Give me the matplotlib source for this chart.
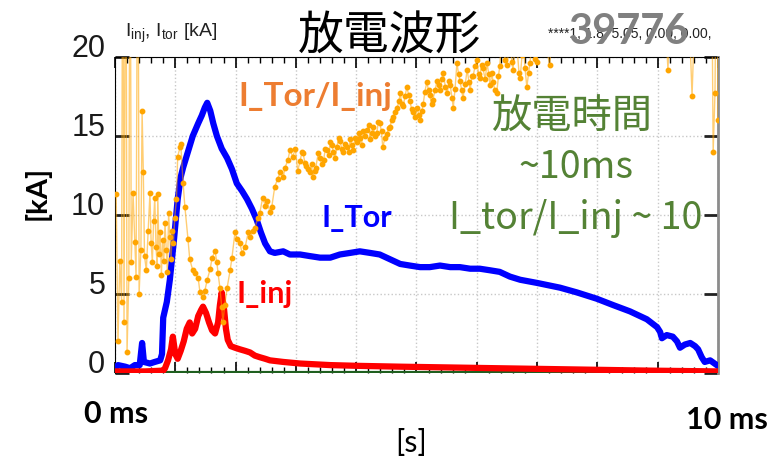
import matplotlib
matplotlib.use("Agg")
import matplotlib.pyplot as plt

plt.rcParams['mathtext.fontset'] = 'custom'
plt.rcParams['mathtext.rm'] = 'Liberation Sans'
plt.rcParams['mathtext.it'] = 'Liberation Sans'

# time axis in ms, currents in kA
t_tor = [0.0, 0.05, 0.17, 0.25, 0.33, 0.41, 0.45, 0.48, 0.58, 0.66, 0.75, 0.78, 0.80, 0.86,
         0.91, 0.98, 1.04, 1.09, 1.13, 1.21, 1.29, 1.38, 1.44, 1.49, 1.53, 1.58, 1.63, 1.69,
         1.77, 1.86, 1.94, 2.02, 2.11, 2.19, 2.27, 2.35, 2.42, 2.49, 2.57, 2.65, 2.79, 2.90,
         3.07, 3.23, 3.40, 3.57, 3.73, 3.90, 4.06, 4.23, 4.39, 4.56, 4.73, 4.89, 5.06, 5.22,
         5.39, 5.56, 5.72, 5.89, 6.05, 6.22, 6.38, 6.55, 6.72, 7.00, 7.38, 7.66, 7.99, 8.26,
         8.54, 8.82, 8.99, 9.04, 9.07, 9.15, 9.25, 9.32, 9.37, 9.45, 9.54, 9.62, 9.67, 9.73,
         9.78, 9.87, 9.98]
i_tor = [0.3, 0.5, 0.4, 0.3, 0.5, 0.5, 1.9, 0.7, 0.6, 0.7, 0.8, 1.2, 3.5, 4.5,
         5.9, 8.5, 11.0, 12.4, 13.0, 14.0, 15.0, 15.8, 16.3, 16.8, 17.1, 16.6, 15.8, 15.0,
         14.2, 13.6, 12.9, 12.0, 11.5, 11.0, 10.4, 9.7, 8.9, 8.2, 7.7, 7.6, 7.7, 7.5,
         7.5, 7.4, 7.3, 7.3, 7.5, 7.6, 7.7, 7.6, 7.5, 7.2, 6.9, 6.8, 6.7, 6.7,
         6.8, 6.7, 6.7, 6.6, 6.6, 6.5, 6.4, 6.1, 5.9, 5.7, 5.4, 5.1, 4.7, 4.3,
         3.9, 3.4, 2.9, 2.6, 2.2, 2.4, 2.3, 2.0, 1.6, 1.8, 1.9, 1.7, 1.5, 1.0,
         0.7, 0.8, 0.5]

t_inj = [0.0, 0.5, 0.80, 0.83, 0.88, 0.93, 0.96, 1.00, 1.04, 1.09, 1.14, 1.19, 1.24, 1.28,
         1.33, 1.38, 1.43, 1.46, 1.51, 1.56, 1.61, 1.66, 1.71, 1.74, 1.77, 1.81, 1.84, 1.87,
         1.92, 1.99, 2.07, 2.16, 2.24, 2.32, 2.40, 2.49, 2.57, 2.79, 3.07, 3.57, 4.06, 4.73,
         5.56, 6.38, 7.21, 8.04, 8.87, 10.0]
i_inj = [0.1, 0.1, 0.15, 0.3, 0.8, 1.5, 2.3, 1.2, 0.9, 1.4, 2.0, 2.8, 3.2, 2.5,
         2.8, 3.6, 4.0, 4.2, 3.8, 3.2, 2.7, 2.5, 3.2, 4.3, 5.1, 4.0, 2.8, 2.1,
         1.7, 1.6, 1.5, 1.4, 1.3, 1.1, 1.0, 0.9, 0.8, 0.7, 0.6, 0.5, 0.45, 0.4,
         0.35, 0.3, 0.25, 0.2, 0.15, 0.1]

# ratio I_tor / I_inj (plotted on the same kA scale, values above 20 run off the top)
t_ratio = [0.02, 0.05, 0.08, 0.11, 0.13, 0.15, 0.18, 0.20, 0.23, 0.25, 0.27, 0.30, 0.33, 0.35,
           0.38, 0.40, 0.43, 0.45, 0.47, 0.49, 0.52, 0.55, 0.58, 0.60, 0.62, 0.64, 0.66, 0.68,
           0.70, 0.71, 0.73, 0.75, 0.77, 0.79, 0.81, 0.83, 0.85, 0.87, 0.89, 0.91, 0.93, 0.95,
           0.97, 0.99, 1.02, 1.04, 1.08, 1.09, 1.13, 1.16, 1.21, 1.24, 1.29, 1.33, 1.38, 1.41,
           1.46, 1.49, 1.53, 1.58, 1.61, 1.66, 1.69, 1.71, 1.74, 1.77, 1.79, 1.82, 1.86, 1.91,
           1.94, 1.99, 2.02, 2.07, 2.11, 2.16, 2.21, 2.24, 2.29, 2.32, 2.37, 2.40, 2.45, 2.49,
           2.52, 2.57, 2.60, 2.65, 2.70, 2.74, 2.79, 2.82, 2.87, 2.90, 2.95, 2.99, 3.03, 3.07,
           3.10, 3.12, 3.15, 3.17, 3.20, 3.23, 3.26, 3.28, 3.31, 3.33, 3.37, 3.40, 3.43, 3.46,
           3.49, 3.52, 3.55, 3.57, 3.60, 3.62, 3.65, 3.68, 3.71, 3.73, 3.76, 3.78, 3.82, 3.85,
           3.88, 3.90, 3.93, 3.95, 3.98, 4.01, 4.04, 4.06, 4.09, 4.11, 4.15, 4.18, 4.21, 4.23,
           4.26, 4.28, 4.31, 4.34, 4.37, 4.39, 4.42, 4.44, 4.48, 4.51, 4.54, 4.56, 4.59, 4.61,
           4.65, 4.68, 4.71, 4.73, 4.76, 4.78, 4.81, 4.84, 4.87, 4.89, 4.92, 4.94, 4.98, 5.01,
           5.04, 5.06, 5.09, 5.11, 5.14, 5.17, 5.20, 5.22, 5.25, 5.27, 5.31, 5.34, 5.37, 5.39,
           5.42, 5.44, 5.48, 5.51, 5.54, 5.56, 5.59, 5.61, 5.64, 5.67, 5.70, 5.72, 5.75, 5.77,
           5.81, 5.84, 5.87, 5.89, 5.92, 5.94, 5.97, 6.00, 6.03, 6.05, 6.08, 6.10, 6.14, 6.17,
           6.20, 6.22, 6.25, 6.27, 6.30, 6.33, 6.36, 6.38, 6.41, 6.43, 6.47, 6.50, 6.53, 6.55,
           6.58, 6.60, 6.64, 6.67, 6.70, 6.72, 6.75, 6.77, 6.80, 6.83, 6.86, 6.88, 6.91, 6.93,
           6.97, 7.00, 7.05, 7.13, 7.21, 7.30, 7.50, 7.80, 8.10, 8.40, 8.70, 9.00, 9.12, 9.17,
           9.22, 9.50, 9.57, 9.64, 9.85, 9.90, 9.92, 9.95, 9.98, 10.0]
ratio = [11.3, 2.0, 7.1, 4.5, 35, 3.2, 35, 1.3, 6.0, 35, 7.0, 11.4, 8.3, 6.1,
         35, 5.0, 7.8, 16.6, 12.7, 7.4, 6.5, 9.0, 11.4, 8.2, 7.0, 9.6, 11.1, 8.0,
         6.8, 11.3, 7.5, 8.9, 6.2, 8.4, 7.1, 9.5, 7.8, 6.4, 10.1, 8.6, 7.2, 9.0,
         8.2, 9.8, 11.0, 13.7, 14.3, 14.5, 12.0, 10.5, 8.5, 7.2, 6.5, 6.3, 6.0, 5.1,
         4.8, 5.2, 5.9, 6.6, 7.3, 7.7, 7.0, 6.3, 5.4, 4.2, 3.2, 4.3, 5.4, 6.5,
         7.3, 8.9, 8.5, 8.2, 7.6, 8.0, 8.9, 8.6, 9.0, 9.2, 9.8, 10.1, 11.1, 10.6,
         10.9, 10.2, 10.5, 11.8, 12.3, 12.7, 12.4, 13.0, 13.5, 14.1, 13.7, 14.2, 12.8, 13.4,
         14.0, 13.9, 13.3, 13.1, 12.9, 12.7, 13.2, 12.4, 12.8, 13.0, 13.9, 13.6, 13.2, 13.5,
         14.2, 14.1, 13.8, 14.6, 14.4, 14.0, 13.6, 14.3, 14.9, 14.7, 14.2, 14.0, 14.5, 14.3,
         14.0, 14.8, 14.4, 14.1, 14.9, 14.6, 15.2, 14.9, 14.4, 15.3, 15.0, 15.4, 15.7, 14.8,
         15.2, 15.6, 15.0, 15.2, 15.9, 15.8, 15.3, 14.3, 14.9, 15.1, 15.5, 15.6, 16.0, 16.2,
         16.5, 16.8, 17.2, 17.7, 17.0, 16.9, 17.5, 18.1, 17.6, 17.2, 16.7, 16.5, 16.2, 16.8,
         16.3, 16.0, 16.6, 17.0, 17.8, 18.4, 17.9, 17.6, 17.0, 17.3, 17.9, 18.5, 18.2, 17.9,
         18.6, 19.0, 18.1, 17.7, 18.5, 18.2, 17.4, 16.8, 18.0, 19.6, 18.9, 18.5, 17.9, 17.4,
         18.3, 19.2, 18.4, 17.9, 18.8, 18.8, 19.4, 19.8, 18.9, 18.7, 19.5, 19.3, 18.6, 19.6,
         18.9, 18.2, 19.0, 18.4, 17.9, 17.7, 18.8, 19.4, 21.0, 20.8, 19.8, 19.5, 20.4, 21.5,
         19.7, 19.2, 20.9, 20.5, 19.0, 18.7, 20.1, 21.0, 19.3, 18.1, 19.0, 19.6, 20.6, 22.0,
         19.9, 19.7, 23.0, 21.0, 19.5, 24.0, 26.0, 25.0, 27.0, 25.0, 26.0, 24.0, 23.0, 19.2,
         24.0, 25.0, 17.5, 26.0, 25.0, 24.0, 14.0, 17.7, 30.0, 16.0]

y_ticks = [0, 5, 10, 15, 20]

fig = plt.figure(figsize=(7.8, 4.69), dpi=100)
ax = fig.add_axes([0.1474, 0.2047, 0.7731, 0.6738])

ax.axhline(0, color='#1f5f1f', lw=3, zorder=2)
ax.plot(t_tor, i_tor, color='#0000ff', lw=4.5, zorder=3)
ax.plot(t_inj, i_inj, color='#ff0000', lw=4.5, zorder=4)
ax.plot(t_ratio, ratio, color='#ffa500', lw=1, alpha=0.55, zorder=5)
ax.plot(t_ratio, ratio, ls='none', marker='o', ms=3.2, color='#ffa500', zorder=6)

ax.set_xlim(0, 10)
ax.set_ylim(0, 20)
ax.set_xticks(range(11))
ax.set_xticks([i * 0.2 for i in range(51)], minor=True)
ax.set_xticklabels([])
# labels sit just above their ticks
ax.set_yticks(y_ticks)
ax.set_yticklabels([str(v) for v in y_ticks], fontfamily='Liberation Sans',
                   fontsize=22, color='#1a1a1a', va='baseline')

ax.tick_params(axis='x', which='major', direction='in', top=True, bottom=True,
               length=8, width=1.2, color='black')
ax.tick_params(axis='x', which='minor', direction='in', top=True, bottom=True,
               length=4.5, width=1, color='black')
ax.tick_params(axis='y', which='major', direction='in', left=True, right=True,
               length=10, width=2, color='#222222', pad=7)
ax.grid(True, which='major', ls=':', color='#c8c8c8', lw=1)

ax.spines['left'].set_color('black')
ax.spines['top'].set_color('black')
ax.spines['right'].set_color('#8c8c8c')
ax.spines['right'].set_linewidth(2)
ax.spines['bottom'].set_visible(False)

# header texts
fig.text(125 / 780, 1 - 33 / 469, r'$\mathrm{I_{inj}}$, $\mathrm{I_{tor}}$ [kA]',
         fontfamily='Liberation Sans', fontsize=14, color='#222222',
         ha='left', va='center')
fig.text(390 / 780, 1 - 36 / 469, '放電波形', fontfamily='Noto Sans CJK JP',
         fontsize=33, color='black', ha='center', va='center')
fig.text(548 / 780, 1 - 34 / 469, '****1, 1.8, 5.05, 0.00, 0.00,',
         fontfamily='Liberation Sans', fontsize=10, color='#222222',
         ha='left', va='center')
fig.text(629 / 780, 1 - 32 / 469, '39776', fontfamily='Lato', fontweight='bold',
         fontsize=30, color='#808080', ha='center', va='center')

# axis captions
fig.text(37 / 780, 1 - 193 / 469, '[kA]', fontfamily='Lato', fontweight='bold',
         fontsize=21, rotation=90, ha='center', va='center')
fig.text(116 / 780, 1 - 414 / 469, '0 ms', fontfamily='Lato', fontweight='bold',
         fontsize=22, ha='center', va='center')
fig.text(727 / 780, 1 - 420 / 469, '10 ms', fontfamily='Lato', fontweight='bold',
         fontsize=22, ha='center', va='center')
fig.text(411 / 780, 1 - 443 / 469, '[s]', fontfamily='Lato', fontsize=22,
         ha='center', va='center')

# series labels
fig.text(238 / 780, 1 - 96 / 469, 'I_Tor/I_inj', fontfamily='Lato', fontweight='bold',
         fontsize=24, color='#ed7d31', ha='left', va='center')
fig.text(322 / 780, 1 - 218 / 469, 'I_Tor', fontfamily='Lato', fontweight='bold',
         fontsize=22, color='#0000ff', ha='left', va='center')
fig.text(237 / 780, 1 - 294 / 469, 'I_inj', fontfamily='Lato', fontweight='bold',
         fontsize=22, color='#ff0000', ha='left', va='center')

green = '#548235'
fig.text(572 / 780, 1 - 117 / 469, '放電時間', fontfamily='Noto Sans CJK JP',
         fontsize=29, color=green, ha='center', va='center')
fig.text(576 / 780, 1 - 167 / 469, '~10ms', fontfamily='Noto Sans CJK JP',
         fontsize=27, color=green, ha='center', va='center')
fig.text(576 / 780, 1 - 218 / 469, 'I_tor/I_inj ~ 10', fontfamily='Noto Sans CJK JP',
         fontsize=27, color=green, ha='center', va='center')

fig.savefig('out.png', dpi=100)
